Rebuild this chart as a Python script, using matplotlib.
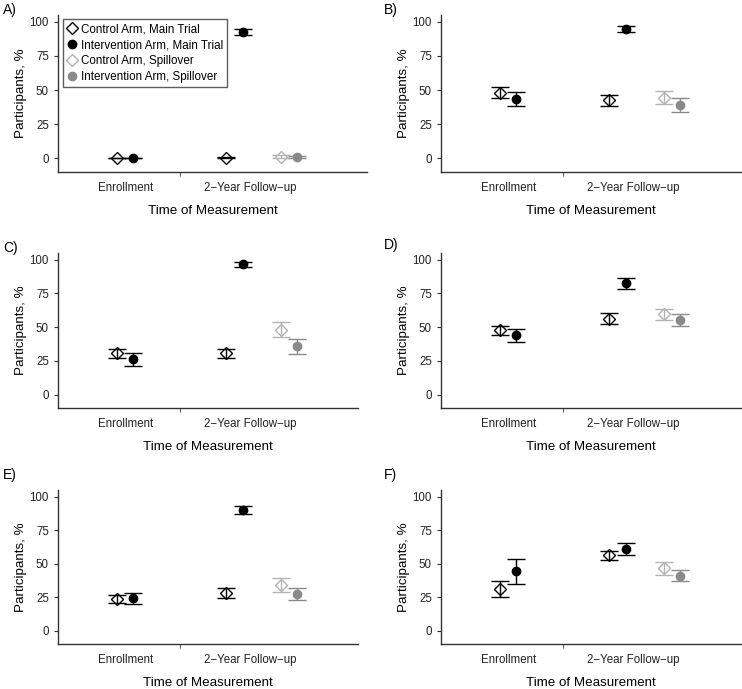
import matplotlib.pyplot as plt
from matplotlib.lines import Line2D

plt.rcParams['font.family'] = ['Liberation Sans', 'DejaVu Sans']

panels = ["A)", "B)", "C)", "D)", "E)", "F)"]

# x: 1 = Enrollment, 3 = 2-Year Follow-up (main), 4 = 2-Year Follow-up (spillover)
# each row: [ctrl main enroll, int main enroll, ctrl main fu, int main fu, ctrl spill fu, int spill fu]
est = [
    [0.0, 0.0, 0.5, 92.7, 1.2, 0.7],
    [48.1, 43.2, 42.7, 94.9, 44.4, 38.8],
    [30.5, 26.1, 30.5, 96.5, 47.6, 36.0],
    [47.6, 44.2, 56.3, 82.4, 59.6, 55.3],
    [23.7, 24.2, 28.1, 89.9, 34.1, 27.2],
    [31.4, 44.2, 56.3, 60.7, 46.4, 41.0],
]
lower = [
    [0.0, 0.0, 0.0, 90.5, 0.0, 0.0],
    [43.9, 38.1, 38.6, 92.5, 40.0, 33.7],
    [27.0, 21.1, 27.3, 94.8, 42.4, 30.3],
    [44.2, 39.2, 52.4, 78.4, 55.3, 51.1],
    [20.5, 19.8, 24.4, 87.2, 28.6, 23.0],
    [24.9, 34.6, 52.6, 56.5, 41.2, 36.8],
]
upper = [
    [0.0, 0.0, 1.2, 94.7, 2.4, 1.6],
    [52.4, 48.5, 46.4, 97.1, 49.0, 44.4],
    [34.0, 30.5, 34.0, 98.3, 53.6, 41.4],
    [51.1, 48.9, 60.3, 86.1, 63.5, 59.8],
    [26.4, 28.4, 31.9, 93.1, 39.5, 31.6],
    [37.3, 53.6, 59.8, 65.7, 51.6, 45.4],
]
xpos = [0.85, 1.15, 2.85, 3.15, 3.85, 4.15]

series = ["Control Arm, Main Trial", "Intervention Arm, Main Trial",
          "Control Arm, Spillover", "Intervention Arm, Spillover"]
# which series each point belongs to
point_series = [0, 1, 0, 1, 2, 3]
markers = ["D", "o", "D", "o"]
colors = ["black", "black", "#b3b3b3", "#8a8a8a"]
filled = [False, True, False, True]

# axes rectangles in pixels: left, top, right, bottom
W, H = 742, 689
rects = [
    (58, 15, 367, 172), (441, 15, 741, 172),
    (58, 253, 358, 408), (441, 253, 741, 408),
    (58, 490, 358, 644), (441, 490, 741, 644),
]
px_per_unit = 54.6
x_left = -0.23

fig = plt.figure(figsize=(W / 100, H / 100), dpi=100)

for i, (l, t, r, b) in enumerate(rects):
    ax = fig.add_axes([l / W, 1 - b / H, (r - l) / W, (b - t) / H])
    for j in range(6):
        s = point_series[j]
        y = est[i][j]
        ax.errorbar(xpos[j], y,
                    yerr=[[y - lower[i][j]], [upper[i][j] - y]],
                    fmt="none", ecolor=colors[s], elinewidth=1.0,
                    capsize=6.5, capthick=1.0, zorder=2)
        ax.plot(xpos[j], y, marker=markers[s], linestyle="none",
                markersize=6.5 if markers[s] == "D" else 6,
                markeredgecolor=colors[s], markeredgewidth=1.0,
                markerfacecolor=colors[s] if filled[s] else "none",
                zorder=3)

    ax.set_xlim(x_left, x_left + (r - l) / px_per_unit)
    ax.set_ylim(-10, 105)
    ax.set_yticks([0, 25, 50, 75, 100])
    ax.set_xticks([1, 3.3])
    ax.set_xticklabels(["Enrollment", "2\u2212Year Follow\u2212up"])
    ax.set_xticks([2], minor=True)
    ax.tick_params(axis="x", which="major", length=0, pad=7,
                   labelsize=8.3, labelcolor="#222222")
    ax.tick_params(axis="x", which="minor", length=3, color="#333333")
    ax.tick_params(axis="y", length=3, color="#333333",
                   labelsize=8.3, labelcolor="#222222")
    for side in ["top", "right"]:
        ax.spines[side].set_visible(False)
    for side in ["left", "bottom"]:
        ax.spines[side].set_color("#333333")
        ax.spines[side].set_linewidth(1.0)

    ax.set_xlabel("Time of Measurement", fontsize=9.6, labelpad=8)
    ax.set_ylabel("Participants, %", fontsize=9.6, labelpad=2)

    lx = 3 if i % 2 == 0 else 384
    ly = [10, 10, 248, 245, 475, 475][i]
    fig.text(lx / W, 1 - ly / H, panels[i], fontsize=10, va="center")

    if i == 0:
        handles = [Line2D([], [], marker=markers[k], linestyle="none",
                          markersize=6 if markers[k] == "D" else 6,
                          markeredgecolor=colors[k],
                          markerfacecolor=colors[k] if filled[k] else "none")
                   for k in range(4)]
        leg = ax.legend(handles, series, loc="upper left",
                        bbox_to_anchor=(0.016, 0.975), fontsize=8.4,
                        frameon=True, fancybox=False, handlelength=0.8,
                        handletextpad=0.4, borderpad=0.35,
                        labelspacing=0.35, borderaxespad=0)
        leg.get_frame().set_edgecolor("#333333")
        leg.get_frame().set_linewidth(1.0)

fig.savefig("out.png", dpi=100)
